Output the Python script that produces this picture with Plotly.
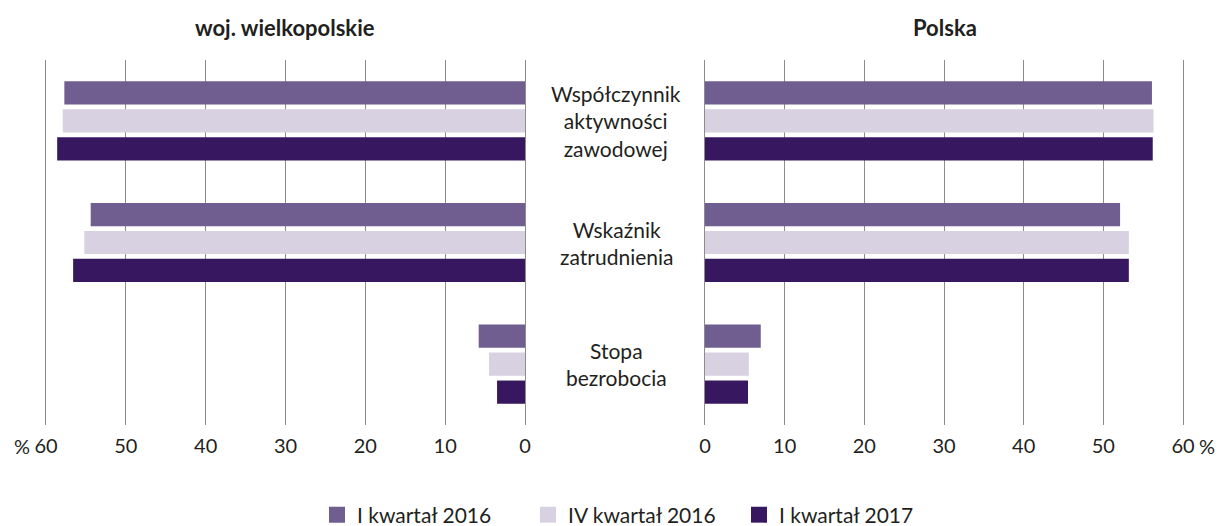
import plotly.graph_objects as go

categories = ["Współczynnik<br>aktywności<br>zawodowej", "Wskaźnik<br>zatrudnienia", "Stopa<br>bezrobocia"]
series_names = ["I kwartał 2016", "IV kwartał 2016", "I kwartał 2017"]
colors = ["#6f5e8f", "#d8d1e2", "#371860"]

wlkp_i2016 = [57.7, 54.4, 5.8]
wlkp_iv2016 = [57.9, 55.2, 4.5]
wlkp_i2017 = [58.6, 56.6, 3.5]

pl_i2016 = [56.1, 52.1, 7.0]
pl_iv2016 = [56.3, 53.2, 5.5]
pl_i2017 = [56.2, 53.2, 5.4]

tick_vals = [0, 10, 20, 30, 40, 50, 60]
tick_text = ["0", "10", "20", "30", "40", "50", "60"]

FONT = "Lato, 'Open Sans', sans-serif"
TXT = "#231f20"

wlkp = [wlkp_i2016, wlkp_iv2016, wlkp_i2017]
pl = [pl_i2016, pl_iv2016, pl_i2017]

fig = go.Figure()
for i, name in enumerate(series_names):
    fig.add_trace(go.Bar(x=wlkp[i], y=categories, orientation="h", name=name,
                         marker=dict(color=colors[i], line=dict(width=0)),
                         xaxis="x", yaxis="y", showlegend=False))
for i, name in enumerate(series_names):
    fig.add_trace(go.Bar(x=pl[i], y=categories, orientation="h", name=name,
                         marker=dict(color=colors[i], line=dict(width=0)),
                         xaxis="x2", yaxis="y2", showlegend=False))
# legend-only entries with larger square swatches
for i, name in enumerate(series_names):
    fig.add_trace(go.Scatter(x=[None], y=[None], mode="markers", name=name,
                             marker=dict(symbol="square", size=18, color=colors[i]),
                             xaxis="x2", yaxis="y2", showlegend=True))

W, H = 1219, 526
PAD = 0.5                      # axis padding in data units (so edge gridlines are drawn)
PXU = (525 - 46) / 60.0        # pixels per unit
L = 46 - PAD * PXU
R = 1183 + PAD * PXU
T, B = 60, 425
PW = R - L
left_end = 525 + PAD * PXU
right_start = 705 - PAD * PXU

axis_common = dict(showgrid=True, gridcolor="#8c8c8c", gridwidth=1, zeroline=False,
                   showline=False, tickvals=tick_vals, ticktext=tick_text,
                   tickfont=dict(family=FONT, size=20, color=TXT),
                   ticks="outside", ticklen=3, tickcolor="rgba(0,0,0,0)",
                   fixedrange=True, automargin=False)
fig.update_layout(
    width=W, height=H,
    margin=dict(l=L, r=W - R, t=T, b=H - B, autoexpand=False),
    paper_bgcolor="white", plot_bgcolor="white",
    barmode="group", bargap=0.31, bargroupgap=0.17,
    font=dict(family=FONT, color=TXT),
    xaxis=dict(domain=[0, (left_end - L) / PW], range=[60 + PAD, -PAD], anchor="y", **axis_common),
    xaxis2=dict(domain=[(right_start - L) / PW, 1], range=[-PAD, 60 + PAD], anchor="y2", **axis_common),
    yaxis=dict(autorange="reversed", showticklabels=False, showgrid=False,
               zeroline=False, showline=False, anchor="x"),
    yaxis2=dict(autorange="reversed", showticklabels=False, showgrid=False,
                zeroline=False, showline=False, anchor="x2", matches="y"),
    legend=dict(orientation="h", x=(317 - L) / PW, xanchor="left", y=-(515 - B) / (B - T),
                yanchor="middle", font=dict(family=FONT, size=21, color=TXT),
                traceorder="normal", itemsizing="trace", entrywidth=166),
    showlegend=True,
)

annotations = []
for c in categories:
    annotations.append(dict(x=(616 - L) / PW, xref="paper", y=c, yref="y", text=c, showarrow=False,
                            font=dict(family=FONT, size=21, color=TXT), align="center",
                            xanchor="center", yanchor="middle"))
annotations.append(dict(x=(285 - L) / PW, y=1 + (T - 27) / (B - T), xref="paper", yref="paper",
                        text="<b>woj. wielkopolskie</b>", showarrow=False,
                        font=dict(family=FONT, size=22, color=TXT), xanchor="center", yanchor="middle"))
annotations.append(dict(x=(945 - L) / PW, y=1 + (T - 27) / (B - T), xref="paper", yref="paper",
                        text="<b>Polska</b>", showarrow=False,
                        font=dict(family=FONT, size=22, color=TXT), xanchor="center", yanchor="middle"))
annotations.append(dict(x=60, xref="x", y=-(446 - B) / (B - T), yref="paper", text="%", showarrow=False,
                        xshift=-14, xanchor="right", yanchor="middle",
                        font=dict(family=FONT, size=20, color=TXT)))
annotations.append(dict(x=60, xref="x2", y=-(446 - B) / (B - T), yref="paper", text="%", showarrow=False,
                        xshift=14, xanchor="left", yanchor="middle",
                        font=dict(family=FONT, size=20, color=TXT)))
fig.update_layout(annotations=annotations)

fig.write_html("out.html", config={"displayModeBar": False},
               post_script="document.body.style.margin='0';document.body.style.padding='0';")
